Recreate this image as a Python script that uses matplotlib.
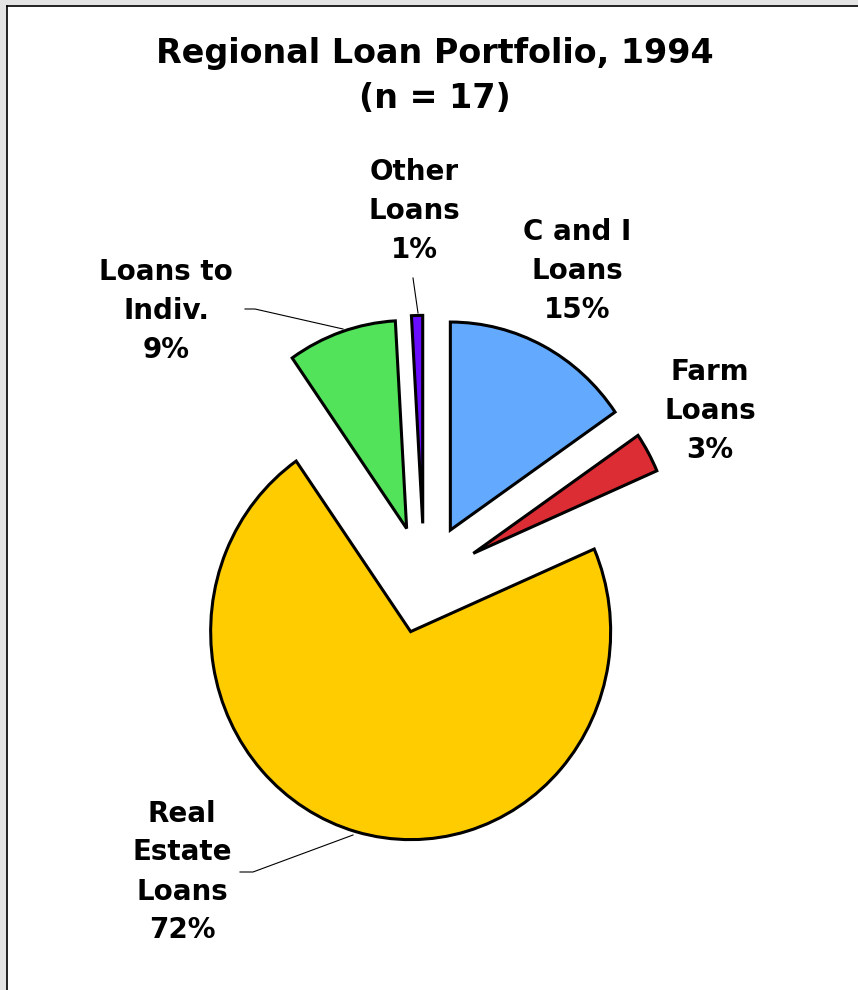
import matplotlib
matplotlib.use("Agg")
import matplotlib.pyplot as plt
from matplotlib.lines import Line2D
from matplotlib.patches import Rectangle

# data (shares)
names = ["C and I\nLoans", "Farm\nLoans", "Real\nEstate\nLoans", "Loans to\nIndiv.", "Other\nLoans"]
shares = [15.4, 3.1, 71.8, 8.8, 0.9]
colors = ["#63AAFF", "#DD2D34", "#FFCC00", "#52E35A", "#6A0DFF"]
explode = [0.28, 0.28, 0.25, 0.27, 0.28]

W, H = 858, 990
fig = plt.figure(figsize=(W / 100, H / 100), dpi=100)
fig.patch.set_facecolor("white")


def fx(px):
    return px / W


def fy(py):
    return 1 - py / H


ax = fig.add_axes([0, 0, 1, 1])
ax.pie(shares, colors=colors, explode=explode, startangle=90, counterclock=False,
       radius=1, wedgeprops=dict(edgecolor="black", linewidth=2.2))

# pie centre at (424, 582) px, radius 200 px across, 208 px down
cx, cy, sx, sy = 424.3, 581.6, 200.0, 208.0
ax.set_xlim(-cx / sx, (W - cx) / sx)
ax.set_ylim((cy - H) / sy, cy / sy)
ax.set_aspect("auto")
ax.axis("off")

# title
fig.text(fx(435), fy(76), "Regional Loan Portfolio, 1994\n(n = 17)", ha="center", va="center",
         fontsize=24, fontweight="bold", linespacing=1.45, family="DejaVu Sans")

# slice labels
lab_pos = [(577, 271), (710, 411), (182, 872), (166, 311), (414, 211)]
for name, v, (px, py) in zip(names, shares, lab_pos):
    fig.text(fx(px), fy(py), f"{name}\n{v:.0f}%", ha="center", va="center",
             fontsize=20, fontweight="bold", linespacing=1.5, family="DejaVu Sans")

# leader lines
leaders = [
    [(245, 309), (255, 309), (343, 329)],
    [(240, 872), (253, 872), (353, 835)],
    [(413, 278), (418, 313)],
]
for pts in leaders:
    xs = [fx(p[0]) for p in pts]
    ys = [fy(p[1]) for p in pts]
    fig.add_artist(Line2D(xs, ys, color="black", linewidth=0.8, transform=fig.transFigure))

# window border
fig.add_artist(Rectangle((0, 0), fx(6), 1, transform=fig.transFigure, color="#e4e4e4", zorder=0))
fig.add_artist(Rectangle((0, fy(5)), 1, 5 / H, transform=fig.transFigure, color="#e4e4e4", zorder=0))
fig.add_artist(Line2D([fx(6.5), fx(6.5)], [0, fy(5.5)], color="black", linewidth=1.2,
                      transform=fig.transFigure))
fig.add_artist(Line2D([fx(6.5), 1], [fy(5.5), fy(5.5)], color="black", linewidth=1.2,
                      transform=fig.transFigure))

fig.savefig("out.png", dpi=100)
